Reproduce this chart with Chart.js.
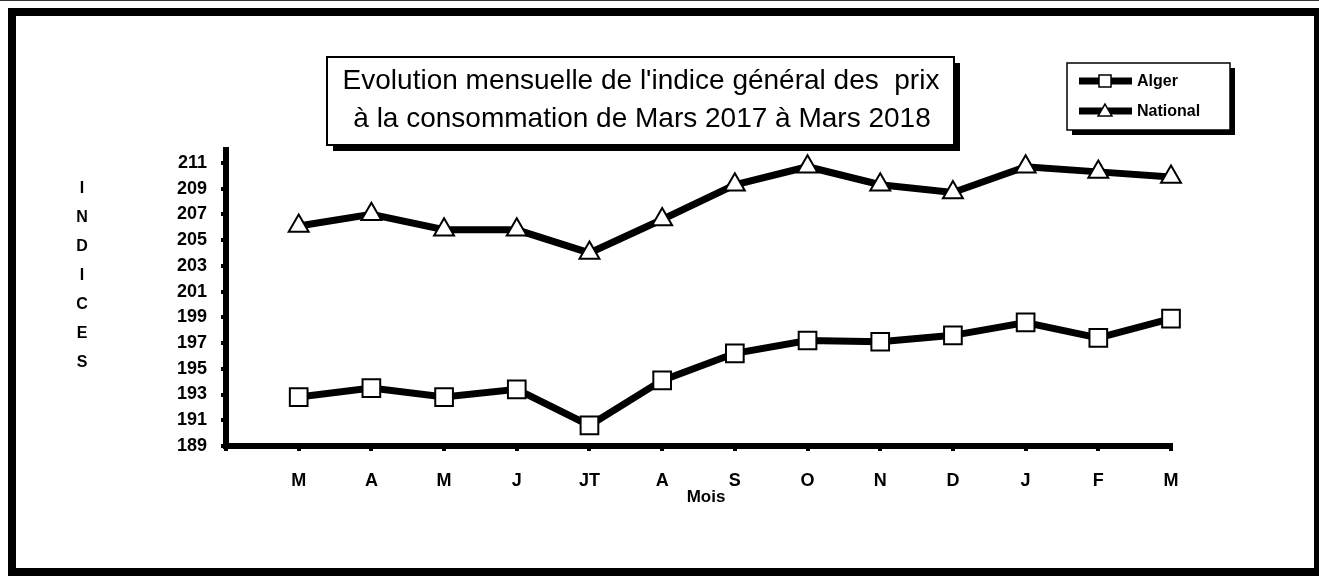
<!DOCTYPE html>
<html>
<head>
<meta charset="utf-8">
<script src="https://cdn.jsdelivr.net/npm/chart.js@4/dist/chart.umd.min.js"></script>
<style>
html,body{margin:0;padding:0;background:#fff;}
canvas{display:block;}
</style>
</head>
<body>
<canvas id="c" width="1319" height="576"></canvas>
<script>
const months = ['M','A','M','J','JT','A','S','O','N','D','J','F','M'];
const alger = [192.8, 193.5, 192.8, 193.4, 190.6, 194.1, 196.2, 197.2, 197.1, 197.6, 198.6, 197.4, 198.9];
const national = [206.1, 207.0, 205.8, 205.8, 204.0, 206.6, 209.3, 210.7, 209.3, 208.7, 210.7, 210.3, 209.9];
const yTicks = [189, 191, 193, 195, 197, 199, 201, 203, 205, 207, 209, 211];
const titleLines = ["Evolution mensuelle de l'indice général des  prix", "à la consommation de Mars 2017 à Mars 2018"];
const seriesNames = ['Alger', 'National'];
const yTitle = 'INDICES';
const xTitle = 'Mois';

const FONT = '"Liberation Sans", Arial, sans-serif';

const decor = {
  id: 'decor',
  beforeDraw(chart) {
    const ctx = chart.ctx;
    ctx.save();
    ctx.fillStyle = '#fff';
    ctx.fillRect(0, 0, chart.width, chart.height);
    ctx.fillStyle = '#000';
    ctx.fillRect(8, 8, 1311, 8);
    ctx.fillRect(8, 8, 8, 568);
    ctx.fillRect(1314, 8, 5, 568);
    ctx.fillRect(8, 568, 1311, 8);
    ctx.fillStyle = '#333';
    ctx.fillRect(0, 0, 1319, 1);
    ctx.restore();
  },
  afterDraw(chart) {
    const ctx = chart.ctx;
    ctx.save();
    // Title box with shadow
    ctx.fillStyle = '#000';
    ctx.fillRect(333, 63, 627, 88);
    ctx.fillStyle = '#fff';
    ctx.fillRect(327, 57, 627, 88);
    ctx.strokeStyle = '#000';
    ctx.lineWidth = 2;
    ctx.strokeRect(327, 57, 627, 88);
    ctx.fillStyle = '#000';
    ctx.font = '28px ' + FONT;
    ctx.textAlign = 'center';
    ctx.textBaseline = 'middle';
    ctx.fillText(titleLines[0], 641, 81);
    ctx.fillText(titleLines[1], 642, 119);

    // Legend box with shadow
    ctx.fillStyle = '#000';
    ctx.fillRect(1072, 68, 163, 67);
    ctx.fillStyle = '#fff';
    ctx.fillRect(1067, 63, 163, 67);
    ctx.strokeStyle = '#000';
    ctx.lineWidth = 1.5;
    ctx.strokeRect(1067, 63, 163, 67);
    const rows = [81, 111];
    const dsets = chart.data.datasets;
    rows.forEach((y, i) => {
      ctx.strokeStyle = '#000';
      ctx.lineWidth = 7;
      ctx.beginPath();
      ctx.moveTo(1079, y);
      ctx.lineTo(1132, y);
      ctx.stroke();
      ctx.fillStyle = '#fff';
      ctx.strokeStyle = '#000';
      ctx.lineWidth = 1.5;
      Chart.helpers.drawPoint(ctx, {
        pointStyle: dsets[i].pointStyle,
        radius: i === 0 ? 8.5 : 8,
        borderWidth: 1.5
      }, 1105, i === 0 ? y : y + 1);
      ctx.fillStyle = '#000';
      ctx.font = 'bold 16px ' + FONT;
      ctx.textAlign = 'left';
      ctx.textBaseline = 'middle';
      ctx.fillText(seriesNames[i], 1137, y + 1);
    });

    // Y title stacked letters
    ctx.font = 'bold 16px ' + FONT;
    ctx.textAlign = 'center';
    ctx.textBaseline = 'middle';
    yTitle.split('').forEach((ch, i) => {
      ctx.fillText(ch, 82, 189 + i * 29);
    });

    // X title
    ctx.font = 'bold 17px ' + FONT;
    ctx.fillText(xTitle, 706, 497);
    ctx.restore();
  }
};

const ctx = document.getElementById('c').getContext('2d');
new Chart(ctx, {
  type: 'line',
  data: {
    labels: [''].concat(months),
    datasets: [
      {
        label: seriesNames[0],
        data: [null].concat(alger),
        borderColor: '#000',
        borderWidth: 7,
        pointStyle: 'rect',
        pointRadius: 12.5,
        pointBackgroundColor: '#fff',
        pointBorderColor: '#000',
        pointBorderWidth: 2,
        tension: 0
      },
      {
        label: seriesNames[1],
        data: [null].concat(national),
        borderColor: '#000',
        borderWidth: 7,
        pointStyle: 'triangle',
        pointRadius: 11.5,
        pointBackgroundColor: '#fff',
        pointBorderColor: '#000',
        pointBorderWidth: 2,
        tension: 0
      }
    ]
  },
  options: {
    responsive: false,
    animation: false,
    devicePixelRatio: 1,
    layout: { padding: { left: 0, top: 150, right: 148, bottom: 0 } },
    plugins: {
      legend: { display: false },
      title: { display: false },
      tooltip: { enabled: false }
    },
    scales: {
      x: {
        type: 'category',
        offset: false,
        afterFit: s => { s.height = 130; },
        border: { display: true, color: '#000', width: 6 },
        grid: { drawOnChartArea: false, drawTicks: true, tickLength: 5, tickWidth: 4, lineWidth: 4, color: '#000', tickColor: '#000' },
        ticks: {
          color: '#000',
          font: { family: FONT, size: 18, weight: 'bold' },
          padding: 19,
          maxRotation: 0,
          autoSkip: false
        }
      },
      y: {
        min: 189,
        max: 212,
        afterFit: s => { s.width = 226; },
        afterBuildTicks: s => { s.ticks = yTicks.map(v => ({ value: v })); },
        border: { display: true, color: '#000', width: 6 },
        grid: { drawOnChartArea: false, drawTicks: true, tickLength: 5, tickWidth: 4, lineWidth: 4, color: '#000', tickColor: '#000' },
        ticks: {
          color: '#000',
          font: { family: FONT, size: 18, weight: 'bold' },
          padding: 14,
          autoSkip: false
        }
      }
    }
  },
  plugins: [decor]
});
</script>
</body>
</html>
